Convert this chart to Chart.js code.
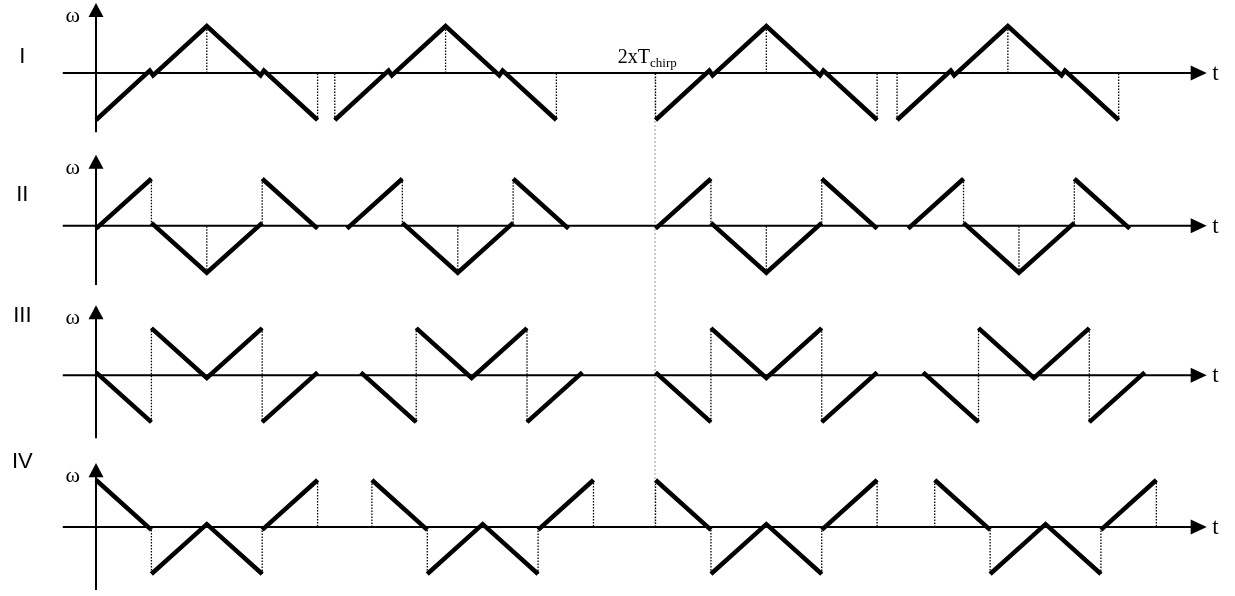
<!DOCTYPE html>
<html>
<head>
<meta charset="utf-8">
<script src="https://cdn.jsdelivr.net/npm/chart.js@4.4.1/dist/chart.umd.min.js"></script>
<style>
html, body { margin: 0; padding: 0; background: #fff; }
#wrap { width: 1235px; height: 596px; }
</style>
</head>
<body>
<div id="wrap"><canvas id="chirpChart"></canvas></div>
<script>
// rows of the diagram, top to bottom
var rowNames = ['I', 'II', 'III', 'IV'];
// omega value where each row's time axis sits (all rows share one omega scale)
var rowZero = [0, -3.25, -6.43, -9.66];

// start time of the four chirp groups in each row (time unit = one ramp)
var groupStarts = [
    [0, 4.31, 10.1, 14.46],
    [0, 4.53, 10.1, 14.66],
    [0, 4.78, 10.1, 14.93],
    [0, 4.98, 10.1, 15.14]
];

// solid ramps of one group, [t, omega] pieces
var rampsI = [[[0, -1], [0.97, 0.05], [1.03, -0.05], [2, 1], [2.97, -0.05], [3.03, 0.05], [4, -1]]];
var rampsII = [[[0, -0.06], [1, 1]], [[1, 0.06], [2, -1], [3, 0.06]], [[3, 1], [4, -0.06]]];
var rampsIII = [[[0, 0.06], [1, -1]], [[1, 1], [2, -0.06], [3, 1]], [[3, -1], [4, 0.06]]];
var rampsIV = [[[0, 1], [1, -0.06]], [[1, -1], [2, 0.06], [3, -1]], [[3, -0.06], [4, 1]]];

// dotted drop lines of one group: [t, omega from, omega to]
var dropsI = [[0, -1, 0], [2, 0, 1], [4, -1, 0]];
var dropsII = [[1, 1, 0], [2, -1, 0], [3, 0, 1]];
var dropsIII = [[1, -1, 1], [3, 1, -1]];
var dropsIV = [[0, 0, 1], [1, 0, -1], [3, -1, 0], [4, 1, 0]];

// the 2 x T_chirp marker
var markerT = 10.09;

var rowRamps = [rampsI, rampsII, rampsIII, rampsIV];
var rowDrops = [dropsI, dropsII, dropsIII, dropsIV];

// axis extents (omega units around each row zero)
var axisTop = [1.49, 1.51, 1.49, 1.36];
var axisBottom = [-1.26, -1.26, -1.34, -1.34];
var labelLift = [0.34, 0.66, 1.26, 1.38];

function gap(list) {
    if (list.length) list.push({ x: list[list.length - 1].x, y: null });
}

var datasets = [];
rowNames.forEach(function(name, r) {
    var z = rowZero[r];
    var solid = [], dots = [], axes = [];
    groupStarts[r].forEach(function(t0) {
        rowRamps[r].forEach(function(piece) {
            piece.forEach(function(p) { solid.push({ x: t0 + p[0], y: z + p[1] }); });
            gap(solid);
        });
        rowDrops[r].forEach(function(d) {
            dots.push({ x: t0 + d[0], y: z + d[1] });
            dots.push({ x: t0 + d[0], y: z + d[2] });
            gap(dots);
        });
    });
    axes.push({ x: -0.6, y: z }, { x: 19.8, y: z });
    gap(axes);
    axes.push({ x: 0, y: z + axisBottom[r] }, { x: 0, y: z + axisTop[r] - 0.25 });

    datasets.push({
        label: 'axes ' + name, data: axes, showLine: true, pointRadius: 0,
        borderColor: '#000', borderWidth: 2, spanGaps: false
    });
    datasets.push({
        label: 'drops ' + name, data: dots, showLine: true, pointRadius: 0,
        borderColor: '#000', borderWidth: 1.3, borderDash: [1.5, 1.5], spanGaps: false
    });
    datasets.push({
        label: 'chirp ' + name, data: solid, showLine: true, pointRadius: 0,
        borderColor: '#000', borderWidth: 4.5, borderJoinStyle: 'miter',
        borderCapStyle: 'butt', spanGaps: false
    });
});

datasets.push({
    label: 'marker', data: [{ x: markerT, y: rowZero[0] }, { x: markerT, y: rowZero[3] }],
    showLine: true, pointRadius: 0, borderColor: '#9a9a9a', borderWidth: 1, borderDash: [2, 2]
});

var decorations = {
    id: 'decorations',
    afterDatasetsDraw: function(chart) {
        var ctx = chart.ctx, xs = chart.scales.x, ys = chart.scales.y;
        ctx.save();
        ctx.fillStyle = '#000';
        rowNames.forEach(function(name, r) {
            var z = rowZero[r];
            var y0 = ys.getPixelForValue(z);
            // arrow on time axis
            var tipX = xs.getPixelForValue(20.05), baseX = xs.getPixelForValue(19.76);
            ctx.beginPath();
            ctx.moveTo(tipX, y0);
            ctx.lineTo(baseX, y0 - 7.5);
            ctx.lineTo(baseX, y0 + 7.5);
            ctx.closePath();
            ctx.fill();
            // arrow on omega axis
            var x0 = xs.getPixelForValue(0);
            var tipY = ys.getPixelForValue(z + axisTop[r]);
            var baseY = ys.getPixelForValue(z + axisTop[r] - 0.3);
            ctx.beginPath();
            ctx.moveTo(x0, tipY);
            ctx.lineTo(x0 - 7.5, baseY);
            ctx.lineTo(x0 + 7.5, baseY);
            ctx.closePath();
            ctx.fill();

            ctx.textBaseline = 'middle';
            ctx.font = '22px "Liberation Serif"';
            ctx.textAlign = 'center';
            ctx.fillText('\u03c9', xs.getPixelForValue(-0.42), tipY + 13);
            ctx.textAlign = 'left';
            ctx.font = '23px "Liberation Serif"';
            ctx.fillText('t', xs.getPixelForValue(20.15), y0 + 1);

            ctx.textAlign = 'center';
            ctx.font = '22px "Liberation Sans"';
            ctx.fillText(name, xs.getPixelForValue(-1.33), ys.getPixelForValue(z + labelLift[r]));
        });
        // 2 x T_chirp label
        var lx = xs.getPixelForValue(9.42), ly = ys.getPixelForValue(rowZero[0] + 0.21);
        ctx.textAlign = 'left';
        ctx.textBaseline = 'alphabetic';
        ctx.font = '20px "Liberation Serif"';
        ctx.fillText('2xT', lx, ly);
        var w = ctx.measureText('2xT').width;
        ctx.font = '13px "Liberation Serif"';
        ctx.fillText('chirp', lx + w, ly + 4);
        ctx.restore();
    }
};

new Chart(document.getElementById('chirpChart').getContext('2d'), {
    type: 'scatter',
    data: { datasets: datasets },
    options: {
        responsive: true,
        maintainAspectRatio: false,
        animation: false,
        layout: { padding: 0 },
        plugins: { legend: { display: false }, tooltip: { enabled: false } },
        scales: {
            x: { type: 'linear', display: false, min: -1.733, max: 20.56 },
            y: { type: 'linear', display: false, min: -11.128, max: 1.553 }
        }
    },
    plugins: [decorations]
});
</script>
</body>
</html>
